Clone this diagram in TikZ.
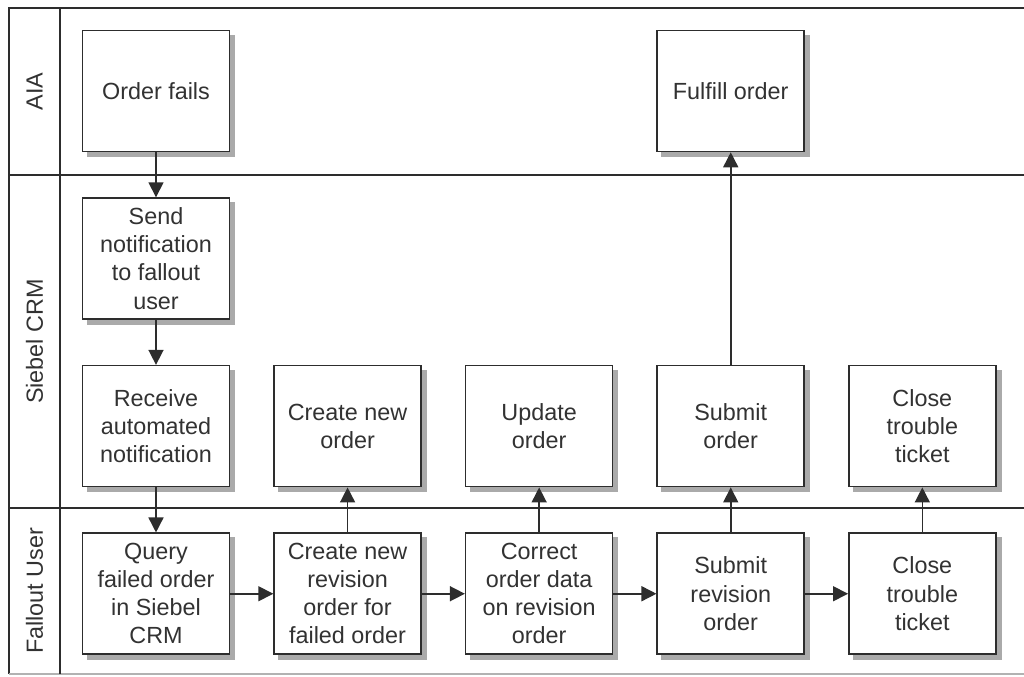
\documentclass[tikz,border=0pt]{standalone}
\usepackage{fontspec}
\setmainfont{Liberation Sans}
\usetikzlibrary{arrows.meta,positioning,calc,backgrounds}
\definecolor{Linea}{RGB}{45,45,45}
\definecolor{Texto}{RGB}{50,50,50}
\definecolor{Sombra}{RGB}{170,170,170}

\begin{document}
\begin{tikzpicture}[font=\fontsize{13.3}{16}\selectfont, node distance=0.9cm and 0.86cm,
    task/.style={draw=Linea, line width=0.9pt, fill=white, text=Texto, minimum width=2.94cm, minimum height=2.42cm, align=center},
    flow/.style={-{Triangle[length=0.3cm,width=0.3cm]}, line width=0.9pt, Linea},
    lane/.style={rotate=90, text=Texto}]
        \useasboundingbox (0,0) rectangle (20.48,-13.54);
        % lanes
        \draw[Linea, line width=0.9pt] (20.48,-0.16) -- (0.18,-0.16) -- (0.18,-13.48);
        \draw[gray!60, line width=0.9pt] (0.18,-13.48) -- (20.48,-13.48);
        \draw[Linea, line width=0.9pt] (1.2,-0.16) -- (1.2,-13.48);
        \draw[Linea, line width=0.9pt] (0.18,-3.5) -- (20.48,-3.5);
        \draw[Linea, line width=0.9pt] (0.18,-10.16) -- (20.48,-10.16);
        \node[lane] (aia) at (0.69,-1.83) {AIA};
        \node[lane] (crm) at (0.69,-6.83) {Siebel CRM};
        \node[lane] (user) at (0.69,-11.82) {Fallout User};

        % first column
        \node[task] (fails) at (3.12,-1.82) {Order fails};
        \node[task, below=of fails] (notify) {Send\\notification\\to fallout\\user};
        \node[task, below=of notify] (receive) {Receive\\automated\\notification};
        \node[task, below=of receive] (query) {Query\\failed order\\in Siebel\\CRM};

        % fallout user row
        \node[task, right=of query] (revise) {Create new\\revision\\order for\\failed order};
        \node[task, right=of revise] (correct) {Correct\\order data\\on revision\\order};
        \node[task, right=of correct] (submitrev) {Submit\\revision\\order};
        \node[task, right=of submitrev] (closeuser) {Close\\trouble\\ticket};

        % siebel crm row
        \node[task, above=of revise] (neworder) {Create new\\order};
        \node[task, above=of correct] (update) {Update\\order};
        \node[task, above=of submitrev] (submit) {Submit\\order};
        \node[task, above=of closeuser] (closecrm) {Close\\trouble\\ticket};

        \node[task] (fulfill) at (fails -| submit) {Fulfill order};

        % shadows
        \begin{scope}[on background layer]
          \foreach \n in {fails,notify,receive,query,revise,correct,submitrev,closeuser,neworder,update,submit,closecrm,fulfill}
            \fill[Sombra] ($(\n.south west)+(0.1,-0.1)$) rectangle ($(\n.north east)+(0.1,-0.1)$);
        \end{scope}

        \draw[flow] (fails) -- (notify);
        \draw[flow] (notify) -- (receive);
        \draw[flow] (receive) -- (query);
        \draw[flow] (query) -- (revise);
        \draw[flow] (revise) -- (correct);
        \draw[flow] (correct) -- (submitrev);
        \draw[flow] (submitrev) -- (closeuser);
        \draw[flow] (revise) -- (neworder);
        \draw[flow] (correct) -- (update);
        \draw[flow] (submitrev) -- (submit);
        \draw[flow] (closeuser) -- (closecrm);
        \draw[flow] (submit) -- (fulfill);
\end{tikzpicture}
\end{document}
